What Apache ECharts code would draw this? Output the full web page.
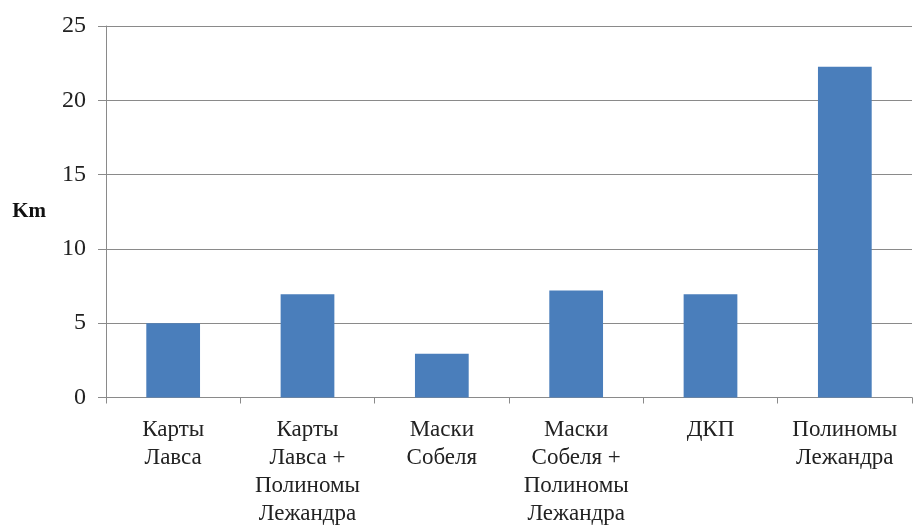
<!DOCTYPE html>
<html>
<head>
<meta charset="utf-8">
<script src="https://cdn.jsdelivr.net/npm/echarts@6/dist/echarts.min.js"></script>
<style>
  html, body { margin: 0; padding: 0; background: #fff; }
  #chart { width: 916px; height: 525px; }
</style>
</head>
<body>
<div id="chart"></div>
<script>
// Methods compared (x axis) and the error in Km for each
const methods = [
  'Карты\nЛавса',
  'Карты\nЛавса +\nПолиномы\nЛежандра',
  'Маски\nСобеля',
  'Маски\nСобеля +\nПолиномы\nЛежандра',
  'ДКП',
  'Полиномы\nЛежандра'
];
const errorKm = [5.0, 6.95, 2.95, 7.2, 6.95, 22.25];
const yTicks = { min: 0, max: 25, interval: 5 };
const yName = 'Km';

const axisGray = '#8a8a8a';
const textColor = '#222';
const serif = '"Liberation Serif", "DejaVu Serif", serif';

const chart = echarts.init(document.getElementById('chart'));
chart.setOption({
  backgroundColor: '#fff',
  animation: false,
  grid: {
    left: 106, right: 4, top: 26, bottom: 127.5,
    containLabel: false,
    outerBoundsMode: 'none'
  },
  xAxis: {
    type: 'category',
    data: methods,
    axisLine: { show: true, lineStyle: { color: axisGray, width: 1 } },
    axisTick: { show: true, length: 6, alignWithLabel: false, lineStyle: { color: axisGray } },
    axisLabel: {
      interval: 0,
      margin: 18,
      color: textColor,
      fontFamily: serif,
      fontSize: 23,
      lineHeight: 28,
      align: 'center'
    }
  },
  yAxis: {
    type: 'value',
    min: yTicks.min,
    max: yTicks.max,
    interval: yTicks.interval,
    name: yName,
    nameLocation: 'middle',
    nameRotate: 0,
    nameGap: 60,
    nameTextStyle: {
      color: '#111',
      fontFamily: serif,
      fontSize: 21,
      fontWeight: 'bold',
      align: 'right',
      padding: [6, 0, 0, 0]
    },
    axisLine: { show: true, lineStyle: { color: axisGray, width: 1 } },
    axisTick: { show: true, length: 8, lineStyle: { color: axisGray } },
    axisLabel: {
      margin: 20,
      color: textColor,
      fontFamily: serif,
      fontSize: 24
    },
    splitLine: { show: true, lineStyle: { color: axisGray, width: 1 } }
  },
  series: [{
    type: 'bar',
    data: errorKm,
    barWidth: '40%',
    itemStyle: { color: '#4a7ebb' }
  }]
});
</script>
</body>
</html>
